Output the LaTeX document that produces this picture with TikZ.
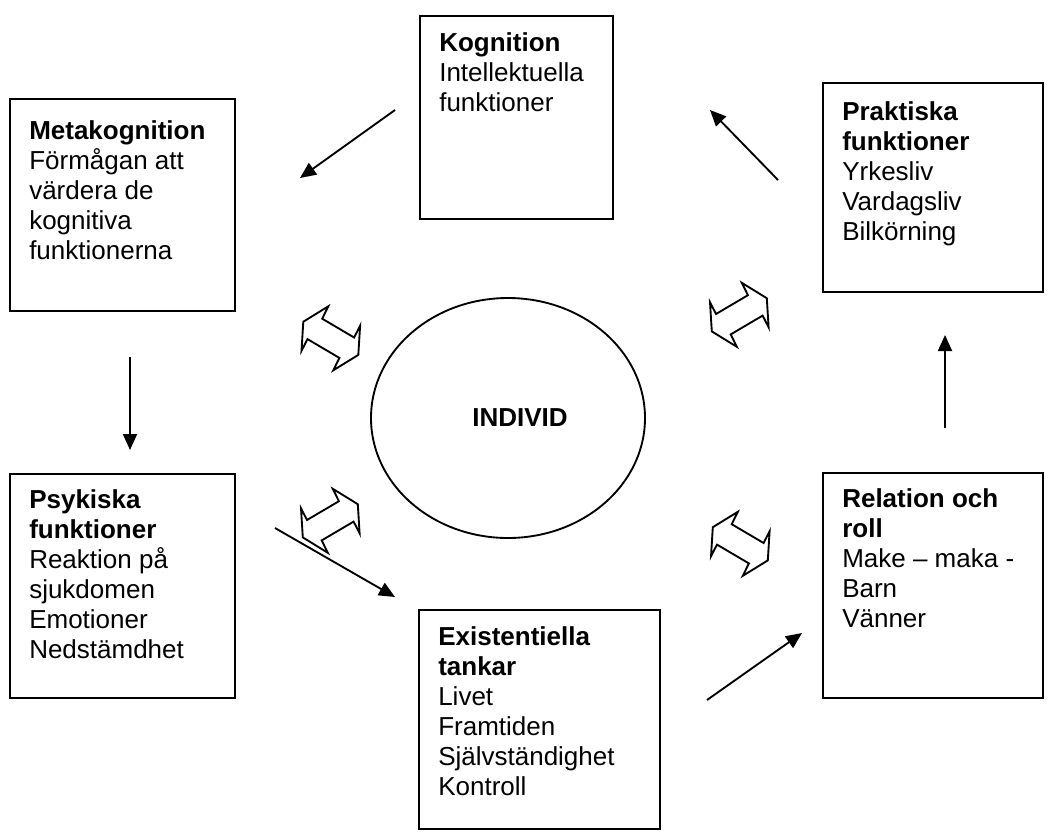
\documentclass[tikz,border=0pt]{standalone}
\usepackage{fontspec}
\setmainfont{Liberation Sans}
\usetikzlibrary{arrows.meta,positioning,shapes.geometric,fit}

\tikzset{
    box/.style={draw, line width=1.5pt, inner sep=0pt},
    boxtext/.style={anchor=north west, align=left, inner sep=0pt, font=\fontsize{19.5}{22.5}\selectfont},
    flow/.style={line width=1.4pt, -{Triangle[length=12pt,width=10.5pt]}},
    dblarrow/.style={line width=1.4pt, line join=miter},
}

\begin{document}
\begin{tikzpicture}[x=0.75pt, y=-0.75pt]
    \useasboundingbox (0,0) rectangle (1055,832);

    % Boxes
    \node[box, fit={(420,16) (613,219)}] (kog) {};
    \node[box, fit={(10,99) (235,311)}] (meta) {};
    \node[box, fit={(823,83) (1043,292)}] (prak) {};
    \node[box, fit={(10,474) (235,698)}] (psyk) {};
    \node[box, fit={(419,610) (660,829)}] (exist) {};
    \node[box, fit={(823,473) (1043,698)}] (rel) {};

    % Texts
    \node[boxtext] (kog-t) at ([shift={(20,15.5)}]kog.north west) {\strut\textbf{Kognition}\\Intellektuella\\funktioner};
    \node[boxtext] (meta-t) at ([shift={(20,20.5)}]meta.north west) {\strut\textbf{Metakognition}\\Förmågan att\\värdera de\\kognitiva\\funktionerna};
    \node[boxtext] (prak-t) at ([shift={(20,17)}]prak.north west) {\strut\textbf{Praktiska}\\\textbf{funktioner}\\Yrkesliv\\Vardagsliv\\Bilkörning};
    \node[boxtext] (psyk-t) at ([shift={(20,14)}]psyk.north west) {\strut\textbf{Psykiska}\\\textbf{funktioner}\\Reaktion på\\sjukdomen\\Emotioner\\Nedstämdhet};
    \node[boxtext] (exist-t) at ([shift={(20,15.5)}]exist.north west) {\strut\textbf{Existentiella}\\\textbf{tankar}\\Livet\\Framtiden\\Självständighet\\Kontroll};
    \node[boxtext] (rel-t) at ([shift={(20,14)}]rel.north west) {\strut\textbf{Relation och}\\\textbf{roll}\\Make – maka -\\Barn\\Vänner};

    % Individ
    \node[draw, ellipse, line width=1.4pt, minimum width=205.5pt, minimum height=180pt] (ind) at (508,418) {};
    \node[font=\fontsize{19.5}{22.5}\selectfont\bfseries] (ind-t) at (520,418) {INDIVID};

    % Arrow ends
    \coordinate (a1) at (395,110);  \coordinate (b1) at (300,178);
    \coordinate (a2) at (778,180);  \coordinate (b2) at (710,110);
    \coordinate (a3) at (130,357);  \coordinate (b3) at (130,450);
    \coordinate (a4) at (275,528);  \coordinate (b4) at (395,597);
    \coordinate (a5) at (707,700);  \coordinate (b5) at (802,633);
    \coordinate (a6) at (945,428);  \coordinate (b6) at (945,335);
    \foreach \i in {1,...,6} {
        \draw[flow] (a\i) -- (b\i);
    }

    % Double arrows
    \foreach \cx/\cy/\s in {330.8/338.3/1, 330.3/520.8/-1, 739.3/314.8/-1, 740.3/543.8/1} {
        \draw[dblarrow, shift={(\cx,\cy)}, xscale=\s] (-2.5,-32) -- (-8.6,-19.6) -- (23.3,-0.8) -- (29.3,-12.5)
        -- (27.5,16.6) -- (2.5,32) -- (8.6,19.6) -- (-23.3,0.8) -- (-29.3,12.5) -- (-27.5,-16.6) -- cycle;
    }
\end{tikzpicture}
\end{document}
